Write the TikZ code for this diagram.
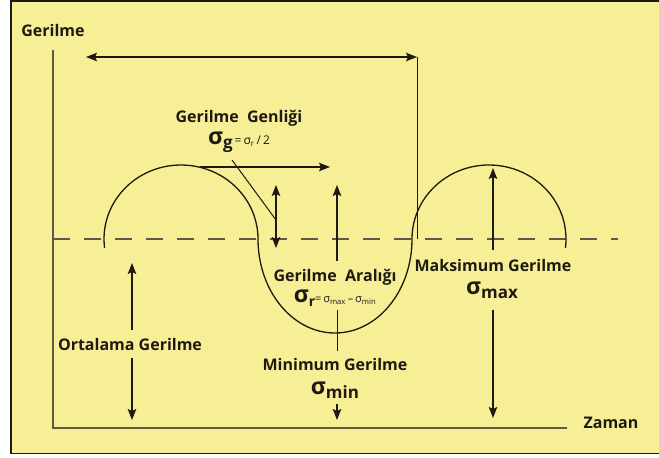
\documentclass[tikz,border=0pt]{standalone}
\usepackage{fontspec}
\setmainfont{Open Sans}
\usetikzlibrary{arrows.meta,positioning}

\definecolor{paper}{RGB}{246,239,150}
\definecolor{ink}{RGB}{30,26,18}
\definecolor{axisgray}{RGB}{95,88,70}

% big sigma with a bold subscript
\newcommand{\sigbig}[2]{{\fontsize{23}{23}\selectfont σ}\raisebox{-4.5pt}{\fontsize{#2}{#2}\selectfont #1}}
% small sigma with a tiny subscript
\newcommand{\sigsmall}[1]{σ\textsubscript{#1}}

\begin{document}
\begin{tikzpicture}[
x=1pt,y=1pt,
font=\bfseries\fontsize{16}{18}\selectfont,
every node/.style={text=ink,inner sep=1pt},
siglbl/.style={inner sep=0pt,text height=9pt,text depth=4pt},
arr/.style={draw=ink,line width=1.1pt,-{Stealth[length=11pt,width=8.5pt,inset=2pt]}},
dblarr/.style={draw=ink,line width=1.1pt,{Stealth[length=11pt,width=8.5pt,inset=2pt]}-{Stealth[length=11pt,width=8.5pt,inset=2pt]}},
thinline/.style={draw=ink,line width=1pt},
axisline/.style={draw=axisgray,line width=1.5pt},
meanline/.style={draw=axisgray,line width=1.3pt,dash pattern=on 17pt off 14pt},
wave/.style={draw=ink,line width=1.3pt}
]

\useasboundingbox (0,0) rectangle (659,458);
\clip (0,0) rectangle (659,458);

%%%%%%%%%%%%%%%%%%%%%%%%%%%%%%%%%%%%%%%%%%%%%%%%%%%%%%%%%%%%
% BACKGROUND
%%%%%%%%%%%%%%%%%%%%%%%%%%%%%%%%%%%%%%%%%%%%%%%%%%%%%%%%%%%%

\fill[white] (0,0) rectangle (659,458);
\draw[fill=paper,draw=ink,line width=1.8pt] (11,4.5) rectangle (690,457);

%%%%%%%%%%%%%%%%%%%%%%%%%%%%%%%%%%%%%%%%%%%%%%%%%%%%%%%%%%%%
% AXES
%%%%%%%%%%%%%%%%%%%%%%%%%%%%%%%%%%%%%%%%%%%%%%%%%%%%%%%%%%%%

\coordinate (axtop) at (53,408);
\coordinate (origin) at (53,30);
\coordinate (axend) at (567,30);

\draw[axisline] (axtop) -- (origin) -- (axend);

\node (gerilme) at (53,427) {Gerilme};
\node (zaman) at (611,35) {Zaman};

%%%%%%%%%%%%%%%%%%%%%%%%%%%%%%%%%%%%%%%%%%%%%%%%%%%%%%%%%%%%
% MEAN LINE AND WAVE
%%%%%%%%%%%%%%%%%%%%%%%%%%%%%%%%%%%%%%%%%%%%%%%%%%%%%%%%%%%%

\coordinate (meanL) at (53,219);
\coordinate (meanR) at (618,219);
\draw[meanline] (meanL) -- (meanR);

\coordinate (wavestart) at (104.58,209.98);
\draw[wave] (wavestart)
arc[start angle=187,end angle=0,x radius=77,y radius=74]
arc[start angle=180,end angle=360,x radius=77,y radius=94]
arc[start angle=180,end angle=-7,x radius=77,y radius=74];

%%%%%%%%%%%%%%%%%%%%%%%%%%%%%%%%%%%%%%%%%%%%%%%%%%%%%%%%%%%%
% PERIOD
%%%%%%%%%%%%%%%%%%%%%%%%%%%%%%%%%%%%%%%%%%%%%%%%%%%%%%%%%%%%

\coordinate (perL) at (86,401);
\coordinate (perR) at (417,401);
\coordinate (perB) at (417,219);

\draw[dblarr] (perL) -- (perR);
\draw[thinline] (perR) -- (perB);

%%%%%%%%%%%%%%%%%%%%%%%%%%%%%%%%%%%%%%%%%%%%%%%%%%%%%%%%%%%%
% Gerilme Genligi
%%%%%%%%%%%%%%%%%%%%%%%%%%%%%%%%%%%%%%%%%%%%%%%%%%%%%%%%%%%%

\node (genlik) at (239,340) {Gerilme\ \ Genliği};
\node[siglbl] (genliksig) at (239,316)
{\sigbig{g}{17}{\mdseries\fontsize{12}{12}\selectfont\,=\,\sigsmall{r}\,/\,2}};

\coordinate (ptrA) at (232,298);
\coordinate (ptrB) at (276,238);
\coordinate (ampL) at (200,291);
\coordinate (ampR) at (330,291);
\coordinate (ampT) at (276,273);
\coordinate (ampB) at (276,210);

\draw[thinline] (ptrA) -- (ptrB);
\draw[arr] (ampL) -- (ampR);
\draw[dblarr] (ampB) -- (ampT);

%%%%%%%%%%%%%%%%%%%%%%%%%%%%%%%%%%%%%%%%%%%%%%%%%%%%%%%%%%%%
% Gerilme Araligi / Minimum Gerilme
%%%%%%%%%%%%%%%%%%%%%%%%%%%%%%%%%%%%%%%%%%%%%%%%%%%%%%%%%%%%

\node (aralik) at (335,181) {Gerilme\ \ Aralığı};
\node[siglbl] (araliksig) at (335,158)
{\sigbig{r}{14}{\mdseries\fontsize{11}{11}\selectfont=\,\sigsmall{max}\,–\,\sigsmall{min}}};

\node (minlbl) at (335,93) {Minimum Gerilme};
\node[siglbl] (minsig) at (335,66) {\sigbig{min}{17}};

\coordinate (rngA) at (337,197);
\coordinate (rngT) at (337,273);
\coordinate (rngB) at (337,148);
\coordinate (rngC) at (337,107);
\coordinate (minA) at (337,54);
\coordinate (minB) at (337,38);

\draw[arr] (rngA) -- (rngT);
\draw[thinline] (rngB) -- (rngC);
\draw[arr] (minA) -- (minB);

%%%%%%%%%%%%%%%%%%%%%%%%%%%%%%%%%%%%%%%%%%%%%%%%%%%%%%%%%%%%
% Maksimum Gerilme
%%%%%%%%%%%%%%%%%%%%%%%%%%%%%%%%%%%%%%%%%%%%%%%%%%%%%%%%%%%%

\node (maxlbl) at (493,192) {Maksimum Gerilme};
\node[siglbl] (maxsig) at (492,166) {\sigbig{max}{17}};

\coordinate (maxA) at (493,208);
\coordinate (maxT) at (493,290);
\coordinate (maxB) at (493,148);
\coordinate (maxC) at (493,40);

\draw[arr] (maxA) -- (maxT);
\draw[arr] (maxB) -- (maxC);

%%%%%%%%%%%%%%%%%%%%%%%%%%%%%%%%%%%%%%%%%%%%%%%%%%%%%%%%%%%%
% Ortalama Gerilme
%%%%%%%%%%%%%%%%%%%%%%%%%%%%%%%%%%%%%%%%%%%%%%%%%%%%%%%%%%%%

\node (ortlbl) at (130,113) {Ortalama Gerilme};

\coordinate (ortA) at (132,128);
\coordinate (ortT) at (132,195);
\coordinate (ortB) at (132,100);
\coordinate (ortC) at (132,38);

\draw[arr] (ortA) -- (ortT);
\draw[arr] (ortB) -- (ortC);

\end{tikzpicture}
\end{document}
